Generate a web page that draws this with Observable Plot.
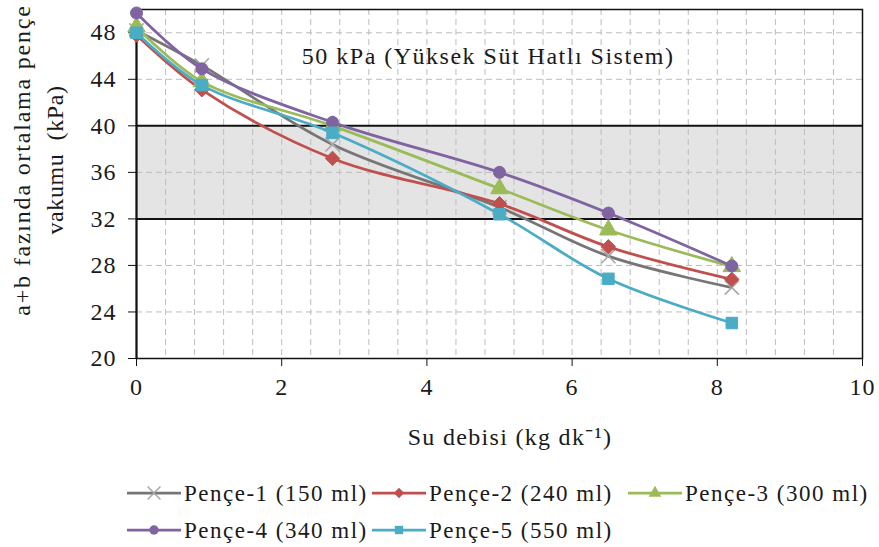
<!DOCTYPE html>
<html><head><meta charset="utf-8">
<script src="https://cdn.jsdelivr.net/npm/d3@7"></script>
<script src="https://cdn.jsdelivr.net/npm/@observablehq/plot@0.6"></script>
<style>
body{margin:0;background:#fff;font-family:"Liberation Serif","Times New Roman",Times,serif;}
#chart svg{display:block}
#chart svg text{font-family:"Liberation Serif","Times New Roman",Times,serif !important;}
</style></head><body><div id="chart"></div>
<script>
// ---- data ----
const xValues = [0, 0.9, 2.7, 5.0, 6.5, 8.2];
const seriesNames = ["Pençe-1 (150 ml)", "Pençe-2 (240 ml)", "Pençe-3 (300 ml)", "Pençe-4 (340 ml)", "Pençe-5 (550 ml)"];
const pence1 = [48.2, 45.2, 38.4, 33.0, 28.8, 26.1];
const pence2 = [47.8, 43.1, 37.2, 33.3, 29.6, 26.8];
const pence3 = [48.5, 43.8, 40.0, 34.6, 31.05, 27.9];
const pence4 = [49.7, 44.9, 40.3, 36.0, 32.5, 27.95];
const pence5 = [48.0, 43.5, 39.4, 32.4, 26.85, 23.05];
const seriesValues = [pence1, pence2, pence3, pence4, pence5];
const seriesColors = ["#767676", "#c0504d", "#9bbb59", "#8064a2", "#4bacc6"];
const markerSymbols = ["times", "diamond2", "triangle", "circle", "square"];
const yTicks = [20, 24, 28, 32, 36, 40, 44, 48];
const xTicks = [0, 2, 4, 6, 8, 10];
const xGrid = d3.range(1, 25).map(k => +(k * 0.4).toFixed(1));
const yGrid = [24, 28, 36, 44, 48];
const bandLimits = [32, 40];
const annotation = "50 kPa (Yüksek Süt Hatlı Sistem)";
const xTitle = "Su debisi (kg dk⁻¹)";
const yTitle1 = "a+b fazında ortalama pençe";
const yTitle2 = "vakumu  (kPa)";

const FONT = "'Liberation Serif', 'Times New Roman', Times, serif";

const rows = [];
seriesValues.forEach((vals, i) => vals.forEach((v, j) => rows.push({i, series: seriesNames[i], x: xValues[j], y: v})));

const seriesMarks = [];
seriesNames.forEach((name, i) => {
  const d = rows.filter(r => r.i === i);
  seriesMarks.push(Plot.line(d, {x: "x", y: "y", stroke: seriesColors[i], strokeWidth: 2.75, curve: "catmull-rom"}));
  if (markerSymbols[i] === "times") {
    seriesMarks.push(Plot.dot(d, {x: "x", y: "y", symbol: "times", r: 6.5, fill: "none", stroke: "#a8a8a8", strokeWidth: 1.6}));
  } else {
    const r = markerSymbols[i] === "circle" ? 6 : 6.5;
    seriesMarks.push(Plot.dot(d, {x: "x", y: "y", symbol: markerSymbols[i], r, fill: seriesColors[i], stroke: seriesColors[i], strokeWidth: 1}));
  }
});

const chart = Plot.plot({
  width: 879, height: 460,
  marginLeft: 136, marginRight: 17, marginTop: 9, marginBottom: 102,
  x: {domain: [0, 10]},
  y: {domain: [20, 50]},
  style: {fontFamily: FONT, fontSize: "24px", letterSpacing: "1px", color: "#1a1a1a", background: "#fff"},
  marks: [
    Plot.rect([bandLimits], {x1: () => 0, x2: () => 10, y1: d => d[0], y2: d => d[1], fill: "#e4e4e4"}),
    Plot.ruleX(xGrid, {stroke: "#bdbdbd", strokeWidth: 1, strokeDasharray: "6,4"}),
    Plot.ruleY(yGrid, {stroke: "#bdbdbd", strokeWidth: 1, strokeDasharray: "6,4"}),
    Plot.ruleY(bandLimits, {stroke: "#111", strokeWidth: 2}),
    Plot.frame({stroke: "#111", strokeWidth: 1.5}),
    Plot.ruleX([0], {stroke: "#111", strokeWidth: 2}),
    Plot.axisY(yTicks, {tickSize: 8, tickPadding: 12, fontSize: 24, label: null, stroke: "#111"}),
    Plot.axisX(xTicks, {tickSize: 8, tickPadding: 11, fontSize: 24, label: null, stroke: "#111"}),
    ...seriesMarks
  ]
});
document.getElementById("chart").appendChild(chart);

const svg = d3.select(chart);
function addText(t, x, y, rot, size, spacing) {
  svg.append("text")
    .attr("transform", `translate(${x},${y})` + (rot ? ` rotate(${rot})` : ""))
    .attr("text-anchor", "middle").attr("dy", "0.35em")
    .attr("fill", "#1a1a1a").style("font-size", size + "px").style("font-family", FONT)
    .style("letter-spacing", spacing + "px")
    .text(t);
}
const xs = chart.scale("x"), ys = chart.scale("y");
addText(annotation, xs.apply(4.85), ys.apply(46.0), 0, 24, 1.5);
addText(xTitle, 510, 437, 0, 24, 1.3);
addText(yTitle1, 22, 160, -90, 24, 1.8);
addText(yTitle2, 55, 160, -90, 24, 0.6);

// ---- legend below the chart ----
const legendPos = [[127, 33], [372, 33], [628, 33], [127, 70], [372, 70]];
const leg = d3.select("#chart").append("svg").attr("width", 879).attr("height", 87)
  .style("display", "block").style("font-family", FONT)
  .style("font-size", "23px").style("letter-spacing", "1.5px");
const symMap = {times: d3.symbolTimes, diamond2: d3.symbolDiamond2, triangle: d3.symbolTriangle, circle: d3.symbolCircle, square: d3.symbolSquare};
seriesNames.forEach((name, i) => {
  const [lx, ly] = legendPos[i];
  const g = leg.append("g").attr("transform", `translate(${lx},${ly})`);
  g.append("line").attr("x1", 0).attr("x2", 54).attr("y1", 0).attr("y2", 0)
    .attr("stroke", seriesColors[i]).attr("stroke-width", 2.75);
  const p = d3.symbol(symMap[markerSymbols[i]], markerSymbols[i] === "times" ? 110 : 70)();
  const s = g.append("path").attr("d", p).attr("transform", "translate(27,0)");
  if (markerSymbols[i] === "times") s.attr("fill", "none").attr("stroke", "#a8a8a8").attr("stroke-width", 1.5);
  else s.attr("fill", seriesColors[i]);
  g.append("text").attr("x", 57).attr("y", 0).attr("dy", "0.35em").attr("fill", "#1a1a1a").text(name);
});
</script></body></html>
